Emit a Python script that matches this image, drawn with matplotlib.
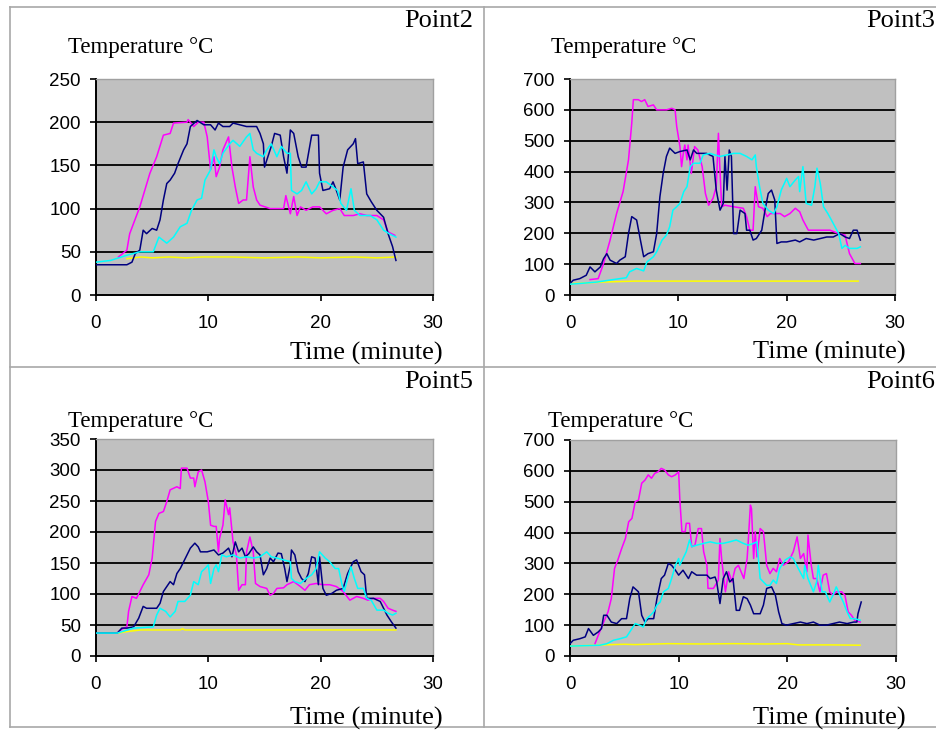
import matplotlib
matplotlib.use("Agg")
import matplotlib.pyplot as plt
from matplotlib.lines import Line2D

# 各测点温度记录 (时间 分钟, 温度 °C)
p2_pink = [(2.0, 44), (2.75, 52), (3.0, 71), (3.9, 102), (4.8, 141), (5.4, 160), (6.0, 185), (6.6, 187), (6.9, 199),
           (8.1, 200), (8.2, 203), (8.7, 195), (9.1, 200), (9.6, 200), (9.9, 183), (10.2, 145), (10.5, 160), (10.7, 137),
           (11.0, 148), (11.3, 168), (11.8, 183), (12.1, 148), (12.4, 125), (12.7, 106), (13.1, 110), (13.4, 110),
           (13.7, 160), (14.0, 125), (14.3, 110), (14.6, 104), (15.5, 100), (16.7, 100), (16.9, 115), (17.3, 94),
           (17.6, 114), (17.9, 92), (18.2, 102), (18.7, 98), (19.3, 102), (19.9, 102), (20.5, 94), (21.1, 98),
           (21.7, 100), (22.1, 92), (22.9, 92), (23.5, 94), (24.1, 92), (25.0, 92), (25.6, 87), (26.0, 73), (26.6, 69)]
p2_navy = [(0, 35), (2.75, 35), (3.2, 38), (3.5, 48), (3.9, 52), (4.2, 75), (4.5, 71), (5.0, 77), (5.4, 75), (5.7, 87),
           (6.0, 110), (6.3, 129), (6.6, 133), (7.0, 141), (7.3, 152), (7.8, 168), (8.1, 175), (8.4, 195), (9.0, 202),
           (9.6, 197), (10.2, 197), (10.6, 191), (10.9, 199), (11.3, 195), (11.9, 195), (12.2, 199), (12.8, 197),
           (13.4, 195), (14.3, 195), (14.6, 187), (14.9, 175), (15.0, 148), (15.3, 160), (15.6, 172), (15.9, 187),
           (16.4, 185), (16.7, 160), (17.0, 141), (17.3, 191), (17.6, 187), (18.0, 160), (18.3, 148), (18.7, 148),
           (19.2, 185), (19.8, 185), (19.9, 141), (20.2, 121), (20.8, 123), (21.1, 131), (21.4, 121), (21.7, 110),
           (22.0, 148), (22.4, 168), (22.9, 175), (23.1, 181), (23.3, 152), (23.8, 154), (24.1, 117), (24.5, 108),
           (25.0, 98), (25.6, 90), (26.0, 71), (26.4, 56), (26.7, 40)]
p2_cyan = [(0, 38), (1.3, 40), (2.75, 46), (3.9, 50), (5.1, 50), (5.6, 67), (6.3, 60), (6.9, 67), (7.5, 79), (8.1, 83),
           (8.5, 98), (9.0, 110), (9.4, 112), (9.7, 133), (10.2, 145), (10.5, 168), (10.7, 160), (11.0, 152),
           (11.3, 164), (11.9, 175), (12.2, 179), (12.8, 172), (13.4, 183), (13.7, 187), (14.0, 168), (14.3, 164),
           (14.9, 160), (15.2, 168), (15.6, 175), (16.1, 160), (16.5, 172), (17.0, 164), (17.3, 164), (17.4, 121),
           (17.9, 117), (18.3, 121), (18.7, 131), (19.2, 117), (19.6, 123), (19.9, 131), (20.5, 131), (21.1, 125),
           (21.5, 121), (21.8, 106), (22.3, 98), (22.7, 123), (23.0, 98), (23.5, 92), (24.4, 92), (25.0, 87),
           (25.6, 75), (26.1, 71), (26.7, 67)]
p2_yellow = [(2.75, 42), (4.0, 44), (5.0, 43), (6.5, 44), (8.0, 43), (9.5, 44), (12.0, 44), (15.0, 43), (18.0, 44),
             (20.0, 43), (23.0, 44), (25.0, 43), (26.7, 44)]

p3_pink = [(1.85, 50), (2.6, 53), (3.1, 102), (3.7, 178), (4.3, 264), (4.9, 335), (5.4, 438), (5.7, 557), (5.85, 633),
           (6.3, 633), (6.6, 627), (6.9, 633), (7.2, 611), (7.7, 616), (8.0, 600), (8.9, 600), (9.4, 605), (9.7, 600),
           (9.85, 546), (10.15, 481), (10.3, 416), (10.5, 470), (10.6, 486), (10.8, 438), (10.9, 486), (11.2, 394),
           (11.5, 481), (11.8, 470), (12.2, 416), (12.5, 329), (12.8, 291), (13.2, 313), (13.5, 351), (13.7, 524),
           (13.8, 438), (14.0, 286), (14.3, 291), (15.1, 286), (16.0, 281), (16.3, 254), (16.6, 210), (16.9, 210),
           (17.1, 351), (17.4, 286), (17.8, 281), (18.2, 254), (18.5, 264), (19.4, 264), (19.8, 254), (20.3, 264),
           (20.8, 281), (21.2, 270), (21.5, 243), (22.0, 210), (24.0, 210), (24.8, 199), (25.4, 194), (25.5, 178),
           (25.8, 134), (26.3, 102), (26.8, 102)]
p3_navy = [(0, 37), (0.3, 48), (0.9, 53), (1.5, 64), (1.85, 91), (2.3, 75), (2.8, 91), (3.1, 118), (3.4, 134),
           (3.7, 113), (4.3, 102), (4.6, 113), (5.1, 124), (5.4, 199), (5.7, 254), (6.15, 243), (6.5, 178), (6.8, 124),
           (7.2, 134), (7.7, 140), (8.0, 199), (8.3, 319), (8.6, 394), (8.9, 449), (9.2, 476), (9.7, 459),
           (10.15, 465), (10.8, 470), (11.1, 438), (11.4, 470), (11.7, 459), (12.6, 459), (13.2, 449), (13.5, 340),
           (13.85, 275), (14.15, 297), (14.3, 449), (14.5, 340), (14.7, 470), (14.9, 449), (15.1, 199), (15.4, 199),
           (15.7, 275), (16.15, 264), (16.3, 210), (16.6, 210), (16.9, 178), (17.2, 183), (17.7, 210), (18.0, 275),
           (18.3, 329), (18.6, 340), (18.9, 308), (19.1, 167), (19.5, 172), (20.0, 172), (20.8, 178), (21.2, 172),
           (21.8, 183), (22.5, 178), (23.1, 183), (23.7, 188), (24.3, 188), (24.9, 199), (25.4, 188), (25.8, 183),
           (26.15, 210), (26.5, 210), (26.8, 178)]
p3_cyan = [(0, 35), (1.5, 39), (2.5, 42), (4.0, 50), (5.2, 56), (5.5, 75), (6.15, 86), (6.8, 78), (7.1, 107),
           (7.7, 124), (8.0, 140), (8.5, 178), (8.9, 194), (9.2, 221), (9.5, 275), (9.85, 286), (10.15, 297),
           (10.5, 335), (10.8, 351), (11.1, 416), (11.4, 427), (12.0, 427), (12.3, 454), (12.9, 459), (13.85, 449),
           (14.5, 454), (15.1, 459), (15.7, 459), (16.3, 449), (16.8, 438), (17.1, 454), (17.2, 416), (17.5, 351),
           (17.8, 297), (18.3, 275), (18.8, 264), (19.1, 286), (19.5, 340), (20.0, 378), (20.3, 351), (20.8, 373),
           (21.1, 384), (21.2, 335), (21.5, 416), (21.8, 297), (22.3, 291), (22.6, 351), (22.8, 411), (23.1, 362),
           (23.4, 286), (23.8, 264), (24.3, 232), (24.8, 199), (25.1, 151), (25.4, 161), (25.8, 151), (26.5, 151),
           (26.8, 156)]
p3_yellow = [(0, 37), (1.5, 39), (3.0, 42), (6.0, 45), (10.0, 45), (15.0, 45), (20.0, 45), (26.6, 45)]

p5_pink = [(2.0, 39), (2.45, 45), (2.75, 47), (2.9, 72), (3.2, 96), (3.6, 93), (3.9, 104), (4.2, 115), (4.7, 131),
           (5.0, 158), (5.3, 217), (5.6, 230), (6.0, 233), (6.3, 249), (6.6, 268), (7.2, 273), (7.5, 270), (7.6, 303),
           (8.1, 303), (8.4, 287), (8.7, 287), (8.8, 273), (9.1, 297), (9.4, 300), (9.7, 281), (10.0, 249),
           (10.2, 211), (10.5, 209), (10.7, 209), (10.9, 168), (11.0, 190), (11.3, 211), (11.5, 252), (11.8, 228),
           (11.9, 239), (12.2, 184), (12.5, 163), (12.7, 106), (13.0, 115), (13.3, 115), (13.4, 168), (13.7, 192),
           (14.0, 168), (14.2, 117), (14.6, 112), (15.2, 109), (15.5, 98), (15.8, 101), (16.1, 109), (16.7, 110),
           (17.0, 115), (17.6, 120), (18.2, 112), (18.6, 106), (19.0, 115), (19.6, 117), (20.2, 115), (20.8, 115),
           (21.4, 112), (22.0, 104), (22.6, 90), (23.2, 96), (23.8, 93), (24.2, 90), (24.7, 93), (25.3, 93),
           (25.6, 88), (26.0, 77), (26.4, 74), (26.7, 72)]
p5_navy = [(0, 37), (1.9, 37), (2.3, 45), (2.75, 45), (3.35, 47), (3.8, 61), (4.2, 80), (4.5, 77), (5.4, 77),
           (5.7, 85), (6.0, 104), (6.3, 112), (6.6, 120), (6.9, 115), (7.2, 133), (7.5, 141), (7.8, 152), (8.1, 163),
           (8.4, 174), (8.8, 182), (9.1, 176), (9.3, 168), (9.9, 168), (10.5, 171), (10.9, 163), (11.3, 166),
           (11.8, 174), (12.1, 160), (12.4, 184), (12.7, 168), (13.0, 174), (13.3, 160), (13.6, 165), (14.0, 176),
           (14.3, 168), (14.6, 163), (14.9, 131), (15.2, 141), (15.5, 158), (15.8, 152), (16.2, 166), (16.5, 165),
           (16.8, 141), (17.0, 120), (17.3, 147), (17.4, 171), (17.7, 163), (18.0, 136), (18.3, 125), (18.6, 120),
           (18.9, 133), (19.2, 160), (19.5, 158), (19.8, 115), (19.9, 160), (20.2, 109), (20.5, 98), (21.0, 101),
           (21.4, 106), (22.0, 109), (22.4, 133), (22.9, 152), (23.2, 155), (23.6, 136), (23.9, 131), (24.1, 93),
           (24.7, 93), (25.3, 88), (25.9, 66), (26.3, 55), (26.7, 45)]
p5_cyan = [(0, 37), (1.9, 37), (3.35, 45), (5.1, 47), (5.4, 66), (5.7, 77), (6.2, 72), (6.6, 63), (7.05, 72),
           (7.3, 88), (7.9, 88), (8.4, 98), (8.7, 120), (9.1, 115), (9.4, 136), (9.7, 141), (10.0, 147), (10.2, 117),
           (10.5, 141), (10.7, 147), (10.9, 136), (11.2, 163), (11.6, 160), (12.2, 163), (12.8, 158), (13.4, 160),
           (14.0, 158), (14.6, 160), (15.2, 168), (15.6, 160), (16.1, 158), (16.7, 155), (17.3, 152), (17.4, 125),
           (17.7, 120), (18.2, 117), (18.7, 125), (19.2, 131), (19.6, 141), (19.9, 168), (20.4, 158), (20.8, 152),
           (21.3, 141), (21.6, 141), (21.9, 115), (22.1, 104), (22.4, 125), (22.7, 144), (23.0, 125), (23.3, 109),
           (23.8, 109), (24.1, 93), (24.5, 90), (25.0, 74), (25.6, 74), (26.0, 69), (26.4, 66), (26.7, 69)]
p5_yellow = [(1.9, 37), (3.0, 40), (4.0, 42), (7.5, 42), (7.7, 44), (7.9, 42), (12.0, 42), (18.0, 42), (26.7, 42)]

p6_pink = [(2.3, 40), (2.6, 67), (3.1, 110), (3.5, 143), (3.8, 186), (4.1, 284), (4.4, 311), (4.75, 348), (5.1, 381),
           (5.4, 435), (5.7, 446), (6.0, 500), (6.3, 505), (6.6, 560), (6.9, 570), (7.2, 587), (7.5, 576), (7.8, 592),
           (8.1, 597), (8.4, 608), (8.7, 603), (9.05, 587), (9.35, 581), (9.7, 587), (10.0, 597), (10.1, 511),
           (10.3, 403), (10.6, 403), (10.7, 430), (11.0, 430), (11.2, 354), (11.5, 359), (11.8, 413), (12.1, 413),
           (12.3, 338), (12.6, 294), (12.7, 219), (13.2, 219), (13.65, 246), (13.8, 381), (13.95, 316), (14.3, 208),
           (14.6, 273), (14.9, 240), (15.2, 284), (15.5, 294), (16.0, 251), (16.3, 316), (16.4, 370), (16.6, 489),
           (16.7, 478), (16.9, 316), (17.05, 403), (17.2, 321), (17.5, 413), (17.8, 403), (18.1, 294), (18.4, 267),
           (18.7, 284), (19.0, 273), (19.3, 316), (19.6, 294), (20.1, 305), (20.55, 338), (20.9, 386), (21.2, 316),
           (21.5, 332), (21.8, 273), (21.9, 392), (22.2, 294), (22.4, 251), (22.7, 251), (23.0, 208), (23.3, 262),
           (23.6, 267), (23.9, 208), (24.2, 197), (24.5, 208), (25.0, 208), (25.3, 197), (25.6, 143), (25.9, 132),
           (26.2, 116), (26.7, 110)]
p6_navy = [(0, 40), (0.3, 51), (0.9, 56), (1.4, 62), (1.7, 89), (2.15, 67), (2.6, 78), (2.9, 89), (3.1, 132),
           (3.4, 132), (3.8, 110), (4.3, 105), (4.75, 121), (5.2, 121), (5.5, 186), (5.8, 224), (6.3, 208), (6.6, 132),
           (6.9, 110), (7.2, 121), (7.7, 121), (8.0, 186), (8.4, 251), (8.7, 262), (9.05, 300), (9.35, 294),
           (9.7, 278), (10.0, 262), (10.4, 278), (10.9, 251), (11.2, 273), (11.65, 262), (12.6, 262), (12.9, 251),
           (13.35, 256), (13.5, 240), (13.8, 170), (14.1, 251), (14.4, 273), (14.7, 240), (15.0, 251), (15.3, 148),
           (15.6, 148), (15.95, 192), (16.3, 186), (16.6, 165), (16.9, 137), (17.5, 137), (17.8, 165), (18.1, 219),
           (18.55, 224), (18.9, 197), (19.2, 143), (19.5, 105), (19.9, 100), (20.55, 105), (21.2, 110), (21.8, 105),
           (22.4, 110), (23.0, 100), (23.6, 100), (24.2, 105), (24.8, 110), (25.5, 105), (26.1, 110), (26.4, 110),
           (26.5, 137), (26.8, 175)]
p6_cyan = [(0, 32), (2.75, 35), (3.4, 40), (4.0, 51), (4.6, 56), (5.2, 62), (5.5, 78), (6.0, 105), (6.4, 100),
           (6.75, 94), (7.05, 121), (7.4, 132), (7.7, 143), (8.0, 165), (8.3, 175), (8.6, 208), (9.05, 219),
           (9.35, 251), (9.7, 294), (10.0, 316), (10.1, 294), (10.4, 316), (10.7, 338), (11.0, 376), (11.2, 354),
           (11.65, 359), (12.3, 365), (12.9, 370), (13.5, 365), (14.1, 365), (14.7, 370), (15.3, 376), (15.95, 365),
           (16.4, 359), (16.9, 365), (17.2, 370), (17.5, 251), (17.8, 240), (18.1, 229), (18.4, 229), (18.7, 246),
           (19.0, 235), (19.3, 284), (19.8, 311), (20.25, 321), (20.55, 316), (21.0, 284), (21.5, 251), (21.6, 294),
           (21.9, 251), (22.4, 208), (22.7, 240), (22.85, 294), (23.2, 208), (23.5, 208), (23.9, 175), (24.2, 197),
           (24.5, 224), (24.85, 197), (25.15, 175), (25.5, 143), (25.8, 121), (26.2, 121), (26.7, 116)]
p6_yellow = [(0, 32), (2.3, 35), (4.0, 37), (5.0, 38), (6.0, 37), (7.0, 38), (9.0, 40), (12.0, 39), (15.0, 40),
             (18.0, 39), (20.0, 40), (21.0, 36), (24.0, 36), (26.7, 35)]

W, H = 937, 731
COLORS = ["#ffff00", "#ff00ff", "#000080", "#00ffff"]


def fx(x):
    return x / W


def fy(y):
    return 1 - y / H


def draw_panel(fig, rect, ymax, ystep, series):
    # rect 为像素坐标 (左, 上, 右, 下)
    l, t, r, b = rect
    ax = fig.add_axes([fx(l), fy(b), (r - l) / W, (b - t) / H])
    ax.set_facecolor("#c0c0c0")
    ax.set_xlim(0, 30)
    ax.set_ylim(0, ymax)
    yt = list(range(0, ymax + 1, ystep))
    ax.set_xticks([0, 10, 20, 30])
    ax.set_yticks(yt)
    ax.hlines(yt[1:-1], 0, 30, colors="black", lw=1.3, zorder=1)
    for s in ["top", "right"]:
        ax.spines[s].set_color("#a0a0a0")
        ax.spines[s].set_linewidth(1.0)
    for s in ["left", "bottom"]:
        ax.spines[s].set_color("black")
        ax.spines[s].set_linewidth(1.4)
    ax.tick_params(direction="out", length=4.5, width=1.2, labelsize=13.5)
    ax.tick_params(axis="x", pad=10)
    ax.tick_params(axis="y", pad=6.5)
    for lab in ax.get_xticklabels() + ax.get_yticklabels():
        lab.set_family("Liberation Sans")
    for data, color in zip(series, COLORS):
        ax.plot([p[0] for p in data], [p[1] for p in data], color=color, lw=1.1, zorder=3)
    return ax


fig = plt.figure(figsize=(W / 100, H / 100), dpi=100)
fig.patch.set_facecolor("white")

panels = [
    ((96, 79, 433, 295), "Point2", 250, 50, [p2_yellow, p2_pink, p2_navy, p2_cyan]),
    ((570, 79, 895, 295), "Point3", 700, 100, [p3_yellow, p3_pink, p3_navy, p3_cyan]),
    ((96, 439, 433, 656), "Point5", 350, 50, [p5_yellow, p5_pink, p5_navy, p5_cyan]),
    ((570, 440, 896, 656), "Point6", 700, 100, [p6_yellow, p6_pink, p6_navy, p6_cyan]),
]

name_pos = [(473, 21), (935, 21), (473, 382), (935, 382)]
temp_pos = [(68, 47), (551, 47), (68, 422), (548, 422)]
time_pos = [(443, 353), (906, 352), (443, 718), (906, 718)]

for (rect, name, ymax, ystep, series), np_, tp, tm in zip(panels, name_pos, temp_pos, time_pos):
    draw_panel(fig, rect, ymax, ystep, series)
    fig.text(fx(np_[0]), fy(np_[1]), name, ha="right", va="center",
             family="Liberation Serif", fontsize=19)
    fig.text(fx(tp[0]), fy(tp[1]), "Temperature °C", ha="left", va="center",
             family="Liberation Serif", fontsize=16.5)
    fig.text(fx(tm[0]), fy(tm[1]), "Time (minute)", ha="right", va="center",
             family="Liberation Serif", fontsize=19)

# 外框与分隔线
grey = "#a8a8a8"
for y in (7, 367, 727):
    fig.add_artist(Line2D([fx(10), fx(W)], [fy(y), fy(y)], color=grey, lw=1.2))
for x in (10, 484):
    fig.add_artist(Line2D([fx(x), fx(x)], [fy(7), fy(727)], color=grey, lw=1.2))

fig.savefig("out.png", dpi=100)
